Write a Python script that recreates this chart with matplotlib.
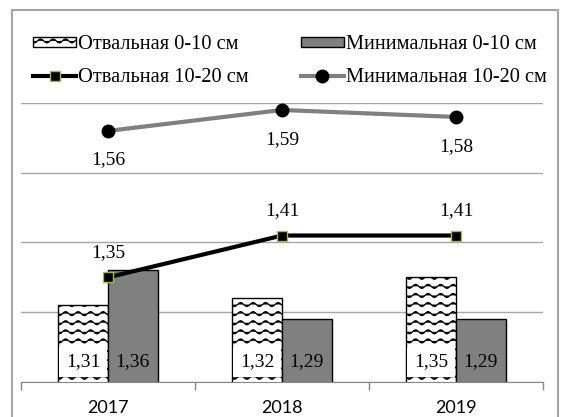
import warnings
import numpy as np
import matplotlib
matplotlib.use('Agg')
import matplotlib.pyplot as plt
from matplotlib import hatch as mhatch
from matplotlib.path import Path
from matplotlib.patches import Rectangle

warnings.filterwarnings('ignore')

# данные
years = ['2017', '2018', '2019']
otv_0_10 = [1.31, 1.32, 1.35]
min_0_10 = [1.36, 1.29, 1.29]
otv_10_20 = [1.35, 1.41, 1.41]
min_10_20 = [1.56, 1.59, 1.58]
names = ['Отвальная 0-10 см', 'Минимальная 0-10 см',
         'Отвальная 10-20 см', 'Минимальная 10-20 см']


class WaveHatch(mhatch.HatchPatternBase):
    # волнистая штриховка как в excel, символ '~'
    rows = 11
    waves = 8
    steps = 10

    def __init__(self, hatch, density):
        self.num_lines = self.rows if '~' in hatch else 0
        self.num_vertices = self.num_lines * (self.waves * self.steps + 1)

    def set_vertices_and_codes(self, vertices, codes):
        n = self.waves * self.steps + 1
        xx = np.linspace(0, 1, n)
        for i in range(self.num_lines):
            yy = (i + 0.5) / self.rows + 0.02 * np.sin(2 * np.pi * self.waves * xx)
            vertices[i * n:(i + 1) * n, 0] = xx
            vertices[i * n:(i + 1) * n, 1] = yy
            codes[i * n] = Path.MOVETO
            codes[i * n + 1:(i + 1) * n] = Path.LINETO


mhatch._hatch_types.append(WaveHatch)
plt.rcParams['hatch.linewidth'] = 0.9
plt.rcParams['hatch.color'] = '#404040'
plt.rcParams['font.family'] = ['Liberation Serif', 'DejaVu Serif']


def fmt(v):
    return '{:.2f}'.format(v).replace('.', ',')


def main():
    fig = plt.figure(figsize=(5.63, 4.17), dpi=100)
    ax = fig.add_axes([21 / 563, 35 / 417, 522 / 563, 279 / 417])

    x = np.arange(len(years))
    w = 0.285
    b1 = ax.bar(x - w / 2, otv_0_10, w, color='white', edgecolor='black',
                hatch='~', linewidth=1, label=names[0], zorder=2)
    b2 = ax.bar(x + w / 2, min_0_10, w, color='#808080', edgecolor='black',
                linewidth=1, label=names[1], zorder=2)
    l1, = ax.plot(x, otv_10_20, color='black', lw=3, marker='s', ms=7,
                  mfc='black', mec='#9bbb59', mew=1, label=names[2], zorder=4)
    l2, = ax.plot(x, min_10_20, color='#808080', lw=3, marker='o', ms=9,
                  mfc='black', mec='black', label=names[3], zorder=4)

    # подписи столбцов
    for xi, v in zip(x - w / 2, otv_0_10):
        ax.annotate(fmt(v), (xi, 1.2), xytext=(0, 14.5), textcoords='offset points',
                    ha='center', va='center', fontsize=14, zorder=5,
                    bbox=dict(boxstyle='square,pad=0.35', fc='white', ec='none'))
    for xi, v in zip(x + w / 2, min_0_10):
        ax.annotate(fmt(v), (xi, 1.2), xytext=(0, 14.5), textcoords='offset points',
                    ha='center', va='center', fontsize=14, zorder=5)
    for xi, v in zip(x, otv_10_20):
        ax.annotate(fmt(v), (xi, v), xytext=(0, 18), textcoords='offset points',
                    ha='center', va='center', fontsize=14, zorder=5)
    for xi, v in zip(x, min_10_20):
        ax.annotate(fmt(v), (xi, v), xytext=(0, -21), textcoords='offset points',
                    ha='center', va='center', fontsize=14, zorder=5)

    ax.set_xlim(-0.5, 2.5)
    ax.set_ylim(1.2, 1.6)
    ax.set_yticks([1.2, 1.3, 1.4, 1.5, 1.6])
    ax.yaxis.grid(True, color='#a6a6a6', lw=1)
    ax.set_axisbelow(True)
    ax.tick_params(axis='y', length=0, labelleft=False)
    ax.set_xticks(x)
    ax.set_xticklabels(years, family='Lato', fontsize=13)
    ax.set_xticks([-0.5, 0.5, 1.5, 2.5], minor=True)
    ax.tick_params(axis='x', which='major', length=0, pad=13)
    ax.tick_params(axis='x', which='minor', length=6, color='#868686', width=1)
    for s in ['left', 'right', 'top']:
        ax.spines[s].set_visible(False)
    ax.spines['bottom'].set_color('#868686')

    fig.legend([b1, l1, b2, l2], [names[0], names[2], names[1], names[3]],
               loc='upper left', bbox_to_anchor=(23 / 563, 1 - 25 / 417),
               ncol=2, frameon=False, fontsize=14.7, borderpad=0,
               handlelength=2.1, handleheight=0.35, handletextpad=0.1,
               columnspacing=2.55, labelspacing=0.68)

    fig.patches.append(Rectangle((12 / 563, -0.1), (558 - 12) / 563, 1.1 - 10 / 417,
                                 transform=fig.transFigure, fill=False,
                                 ec='#a6a6a6', lw=1.5))
    fig.savefig('out.png', dpi=100)


if __name__ == "__main__":
    main()
